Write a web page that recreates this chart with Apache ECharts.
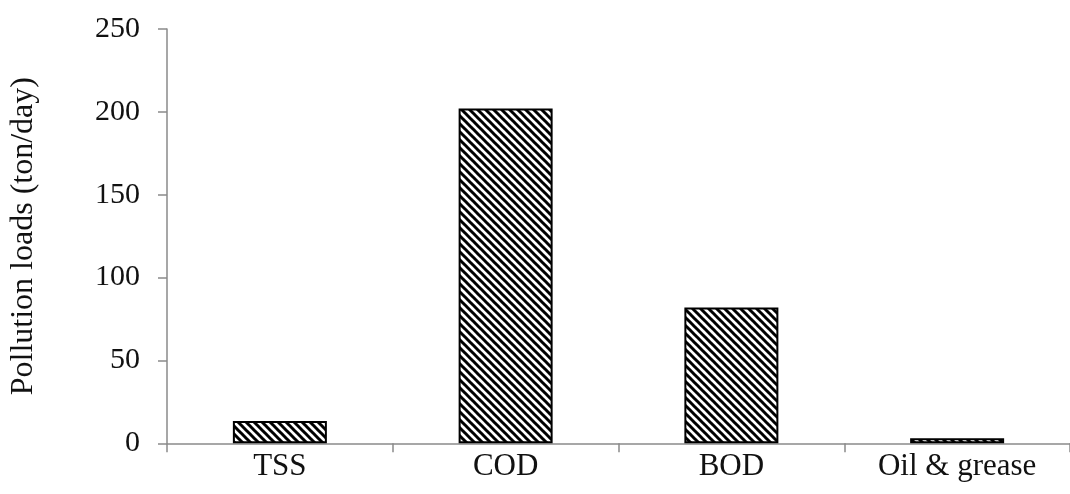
<!DOCTYPE html>
<html>
<head>
<meta charset="utf-8">
<script src="https://cdn.jsdelivr.net/npm/echarts@6/dist/echarts.min.js"></script>
<style>
html,body{margin:0;padding:0;background:#fff;}
#chart{width:1070px;height:494px;}
</style>
</head>
<body>
<div id="chart"></div>
<script>
var categories = ['TSS', 'COD', 'BOD', 'Oil & grease'];
var loads = [13.5, 202, 82, 3];
var yTicks = [0, 50, 100, 150, 200, 250];

function makePattern() {
  var c = document.createElement('canvas');
  c.width = 8; c.height = 8;
  var ctx = c.getContext('2d');
  ctx.fillStyle = '#fff';
  ctx.fillRect(0, 0, 8, 8);
  ctx.strokeStyle = '#000';
  ctx.lineWidth = 3;
  for (var k = -8; k <= 8; k += 8) {
    ctx.beginPath();
    ctx.moveTo(-1, k - 1);
    ctx.lineTo(9, k + 9);
    ctx.stroke();
  }
  return c;
}

var chart = echarts.init(document.getElementById('chart'));
var font = '"Liberation Serif", "Times New Roman", serif';
chart.setOption({
  animation: false,
  backgroundColor: '#fff',
  grid: { left: 166, top: 29, width: 912, height: 414.3, containLabel: false },
  xAxis: {
    type: 'category',
    data: categories,
    boundaryGap: true,
    axisLine: { show: true, lineStyle: { color: '#8a8a8a', width: 1.5 } },
    axisTick: { show: true, length: 9, alignWithLabel: false, lineStyle: { color: '#8a8a8a', width: 1.5 } },
    axisLabel: { color: '#111', fontFamily: font, fontSize: 31, margin: 8 },
    splitLine: { show: false }
  },
  yAxis: {
    type: 'value',
    min: yTicks[0],
    max: yTicks[yTicks.length - 1],
    interval: 50,
    name: 'Pollution loads (ton/day)',
    nameLocation: 'middle',
    nameRotate: 90,
    nameGap: 127,
    nameTextStyle: { color: '#111', fontFamily: font, fontSize: 32 },
    axisLine: { show: true, lineStyle: { color: '#8a8a8a', width: 1.5 } },
    axisTick: { show: true, length: 9, lineStyle: { color: '#8a8a8a', width: 1.5 } },
    axisLabel: { color: '#111', fontFamily: font, fontSize: 30, margin: 27 },
    splitLine: { show: false }
  },
  series: [{
    type: 'bar',
    data: loads,
    barWidth: 94,
    itemStyle: {
      color: { image: makePattern(), repeat: 'repeat' },
      borderColor: '#000',
      borderWidth: 2
    }
  }]
});
</script>
</body>
</html>
